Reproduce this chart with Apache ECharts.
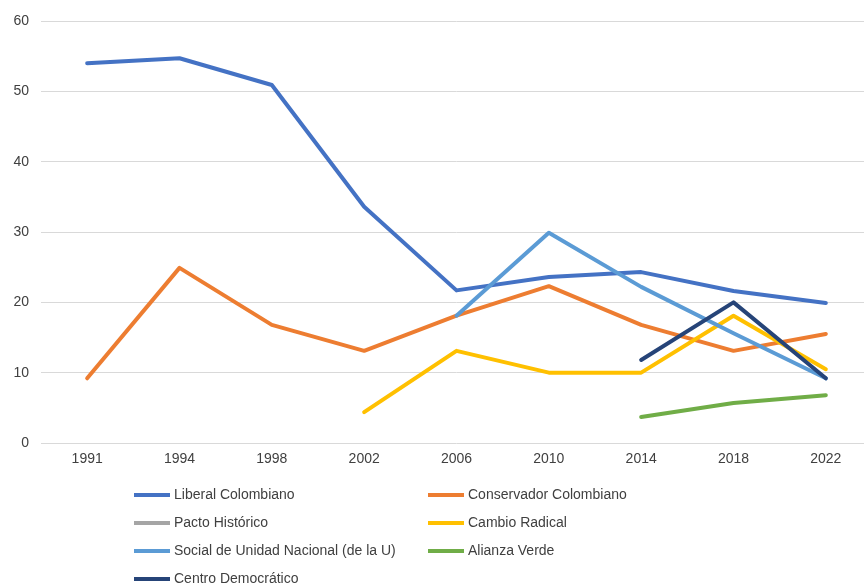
<!DOCTYPE html>
<html>
<head>
<meta charset="utf-8">
<script src="https://cdn.jsdelivr.net/npm/echarts@6/dist/echarts.min.js"></script>
<style>
html,body{margin:0;padding:0;background:#fff;overflow:hidden;width:864px;height:587px;}
#chart{width:872px;height:587px;}
</style>
</head>
<body>
<div id="chart"></div>
<script>
var years = ['1991','1994','1998','2002','2006','2010','2014','2018','2022'];
var yTicks = [0,10,20,30,40,50,60];
var liberal     = [54.0, 54.7, 50.9, 33.6, 21.7, 23.6, 24.3, 21.6, 19.9];
var conservador = [9.2, 24.9, 16.8, 13.1, 18.1, 22.3, 16.8, 13.1, 15.5];
var pacto       = [null, null, null, null, null, null, null, null, null];
var cambio      = [null, null, null, 4.4, 13.1, 10.0, 10.0, 18.1, 10.5];
var socialU     = [null, null, null, null, 18.1, 29.9, 22.2, 15.6, 9.2];
var alianza     = [null, null, null, null, null, null, 3.7, 5.7, 6.8];
var centro      = [null, null, null, null, null, null, 11.8, 20.0, 9.2];

var names = ['Liberal Colombiano','Conservador Colombiano','Pacto Histórico','Cambio Radical','Social de Unidad Nacional (de la U)','Alianza Verde','Centro Democrático'];
var colors = ['#4472C4','#ED7D31','#A5A5A5','#FFC000','#5B9BD5','#70AD47','#264478'];
var datas = [liberal, conservador, pacto, cambio, socialU, alianza, centro];

var font = 'Liberation Sans, Arial, sans-serif';
var series = names.map(function(n,i){
  return {
    name: n, type: 'line', data: datas[i], symbol: 'none', connectNulls: false,
    color: colors[i],
    lineStyle: {width: 4, color: colors[i], cap: 'round', join: 'round'},
    z: 2
  };
});

var legendCommon = {
  orient: 'vertical', icon: 'rect', itemWidth: 36, itemHeight: 4, itemGap: 12,
  textStyle: {fontSize: 14, color: '#404040', fontFamily: font, lineHeight: 16, padding: [0,0,0,-1]},
  padding: 0, selectedMode: false
};

var chart = echarts.init(document.getElementById('chart'));
chart.setOption({
  animation: false,
  backgroundColor: '#fff',
  color: colors,
  grid: {left: 41, top: 21, right: 0, height: 422, containLabel: false},
  legend: [
    Object.assign({}, legendCommon, {left: 134, top: 487, data: [names[0], names[2], names[4], names[6]]}),
    Object.assign({}, legendCommon, {left: 428, top: 487, data: [names[1], names[3], names[5]]})
  ],
  xAxis: {
    type: 'category', data: years, boundaryGap: true,
    axisLine: {show: false}, axisTick: {show: false},
    axisLabel: {fontSize: 14, color: '#404040', fontFamily: font, margin: 9}
  },
  yAxis: {
    type: 'value', min: yTicks[0], max: yTicks[yTicks.length-1], interval: 10,
    axisLine: {show: false}, axisTick: {show: false},
    axisLabel: {fontSize: 14, color: '#404040', fontFamily: font, margin: 12},
    splitLine: {lineStyle: {color: '#D9D9D9', width: 1}}
  },
  series: series
});
</script>
</body>
</html>
